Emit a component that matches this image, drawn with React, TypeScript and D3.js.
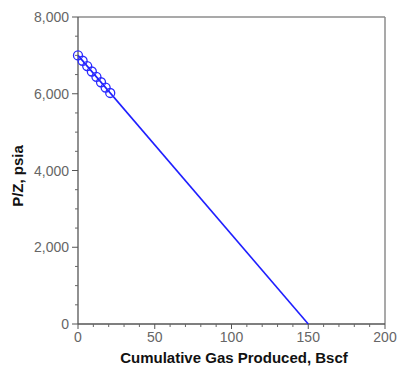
import React from 'react';
import * as d3 from 'd3';

// measured P/Z points
const cumGas = [0, 3, 6, 9, 12, 15, 18, 21];
const pOverZ = [7000, 6860, 6720, 6580, 6440, 6300, 6160, 6020];
// straight-line extrapolation to abandonment
const lineX = [0, 150];
const lineY = [7000, 0];

const xTicks = [0, 50, 100, 150, 200];
const yTicks = [0, 2000, 4000, 6000, 8000];

const W = 397;
const H = 371;
const m = { left: 78, right: 12, top: 17, bottom: 47 };

const App: React.FC = () => {
  const x = d3.scaleLinear().domain([0, 200]).range([m.left, W - m.right]);
  const y = d3.scaleLinear().domain([0, 8000]).range([H - m.bottom, m.top]);
  const fmt = d3.format(',');

  const line = d3.line<number>()
    .x((_, i) => x(lineX[i]))
    .y(d => y(d));

  const xMinor = d3.range(0, 201, 10).filter(v => v % 50 !== 0);
  const yMinor = d3.range(0, 8001, 500).filter(v => v % 2000 !== 0);
  const font = 'Arial, "Liberation Sans", sans-serif';

  return (
    <svg width={W} height={H} style={{ position: 'absolute', left: 0, top: 0, background: '#fff' }}>
      {/* frame */}
      <line x1={x(0)} x2={x(200)} y1={y(8000)} y2={y(8000)} stroke="#8c8c8c" strokeWidth={1.5} />
      <line x1={x(200)} x2={x(200)} y1={y(8000)} y2={y(0)} stroke="#8c8c8c" strokeWidth={1.5} />
      <line x1={x(0)} x2={x(200)} y1={y(0)} y2={y(0)} stroke="#555" strokeWidth={1.3} />
      <line x1={x(0)} x2={x(0)} y1={y(8000)} y2={y(0)} stroke="#555" strokeWidth={1.3} />

      {xTicks.map(t => (
        <g key={'xt' + t}>
          <line x1={x(t)} x2={x(t)} y1={y(0)} y2={y(0) + 5} stroke="#555" />
          <text x={x(t)} y={y(0) + 18} textAnchor="middle" fontFamily={font} fontSize={14} fill="#666">{t}</text>
        </g>
      ))}
      {xMinor.map(t => (
        <line key={'xm' + t} x1={x(t)} x2={x(t)} y1={y(0)} y2={y(0) + 3} stroke="#666" />
      ))}
      {yTicks.map(t => (
        <g key={'yt' + t}>
          <line x1={x(0) - 6} x2={x(0)} y1={y(t)} y2={y(t)} stroke="#555" />
          <text x={x(0) - 9} y={y(t) + 5} textAnchor="end" fontFamily={font} fontSize={14} fill="#666">{fmt(t)}</text>
        </g>
      ))}
      {yMinor.map(t => (
        <line key={'ym' + t} x1={x(0) - 3} x2={x(0)} y1={y(t)} y2={y(t)} stroke="#666" />
      ))}

      <path d={line(lineY) || ''} fill="none" stroke="#1f1fff" strokeWidth={1.6} />
      {cumGas.map((g, i) => (
        <circle key={'p' + i} cx={x(g)} cy={y(pOverZ[i])} r={4.5} fill="none" stroke="#2a2aff" strokeWidth={1.3} />
      ))}

      <text x={234} y={363} textAnchor="middle" fontFamily={font} fontWeight="bold" fontSize={15} fill="#111">Cumulative Gas Produced, Bscf</text>
      <text transform={`translate(23,176) rotate(-90)`} textAnchor="middle" fontFamily={font} fontWeight="bold" fontSize={15} fill="#111">P/Z, psia</text>
    </svg>
  );
};

export default App;
